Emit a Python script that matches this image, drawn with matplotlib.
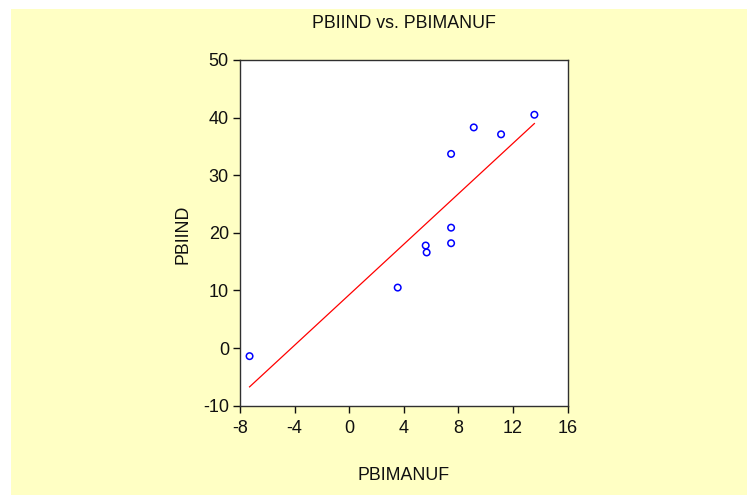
import matplotlib
matplotlib.use("Agg")
import matplotlib.pyplot as plt
from matplotlib.patches import Rectangle
import numpy as np

plt.rcParams['font.family'] = ['Liberation Sans', 'DejaVu Sans']

# Data
pbimanuf = [-7.3, 3.55, 5.6, 5.67, 7.46, 7.46, 7.46, 9.12, 11.12, 13.56]
pbiind = [-1.4, 10.5, 17.8, 16.6, 20.9, 18.2, 33.7, 38.3, 37.1, 40.5]
x_ticks = [-8, -4, 0, 4, 8, 12, 16]
y_ticks = [-10, 0, 10, 20, 30, 40, 50]
title = "PBIIND vs. PBIMANUF"
xlabel = "PBIMANUF"
ylabel = "PBIIND"

W, H = 747, 496
fig = plt.figure(figsize=(W / 100, H / 100), dpi=100)
fig.patch.set_facecolor('white')
fig.patches.append(Rectangle((11 / W, 1 / H), (W - 11) / W, (H - 10) / H,
                             transform=fig.transFigure, facecolor='#FFFFC4',
                             edgecolor='none', zorder=-10))

ax = fig.add_axes([240 / W, 1 - 405.7 / H, 327.7 / W, 345.7 / H])
ax.set_facecolor('white')

x = np.array(pbimanuf)
y = np.array(pbiind)
slope, intercept = np.polyfit(x, y, 1)
xs = np.array([x.min(), x.max()])
ax.plot(xs, slope * xs + intercept, color='#FF0000', linewidth=0.9, zorder=2)
ax.scatter(x, y, s=22, facecolors='none', edgecolors='#0000FF', linewidths=1.1, zorder=3)

ax.set_xlim(-8, 16)
ax.set_ylim(-10, 50)
ax.set_xticks(x_ticks)
ax.set_yticks(y_ticks)
ax.set_xticklabels([str(v) for v in x_ticks])
ax.set_yticklabels([str(v) for v in y_ticks])
ax.tick_params(direction='out', length=5, width=1, labelsize=13,
               colors='#101010', top=False, right=False)
ax.tick_params(axis='x', pad=5)
ax.tick_params(axis='y', pad=3)
for s in ax.spines.values():
    s.set_color('#303030')
    s.set_linewidth(1)

fig.text(404 / W, 1 - 23 / H, title, ha='center', va='center', fontsize=12.8, color='#101010')
fig.text(404 / W, 1 - 475 / H, xlabel, ha='center', va='center', fontsize=12.8, color='#101010')
fig.text(183 / W, 1 - 234 / H, ylabel, ha='center', va='center', rotation=90,
         fontsize=12.8, color='#101010')

fig.savefig('out.png', dpi=100)
